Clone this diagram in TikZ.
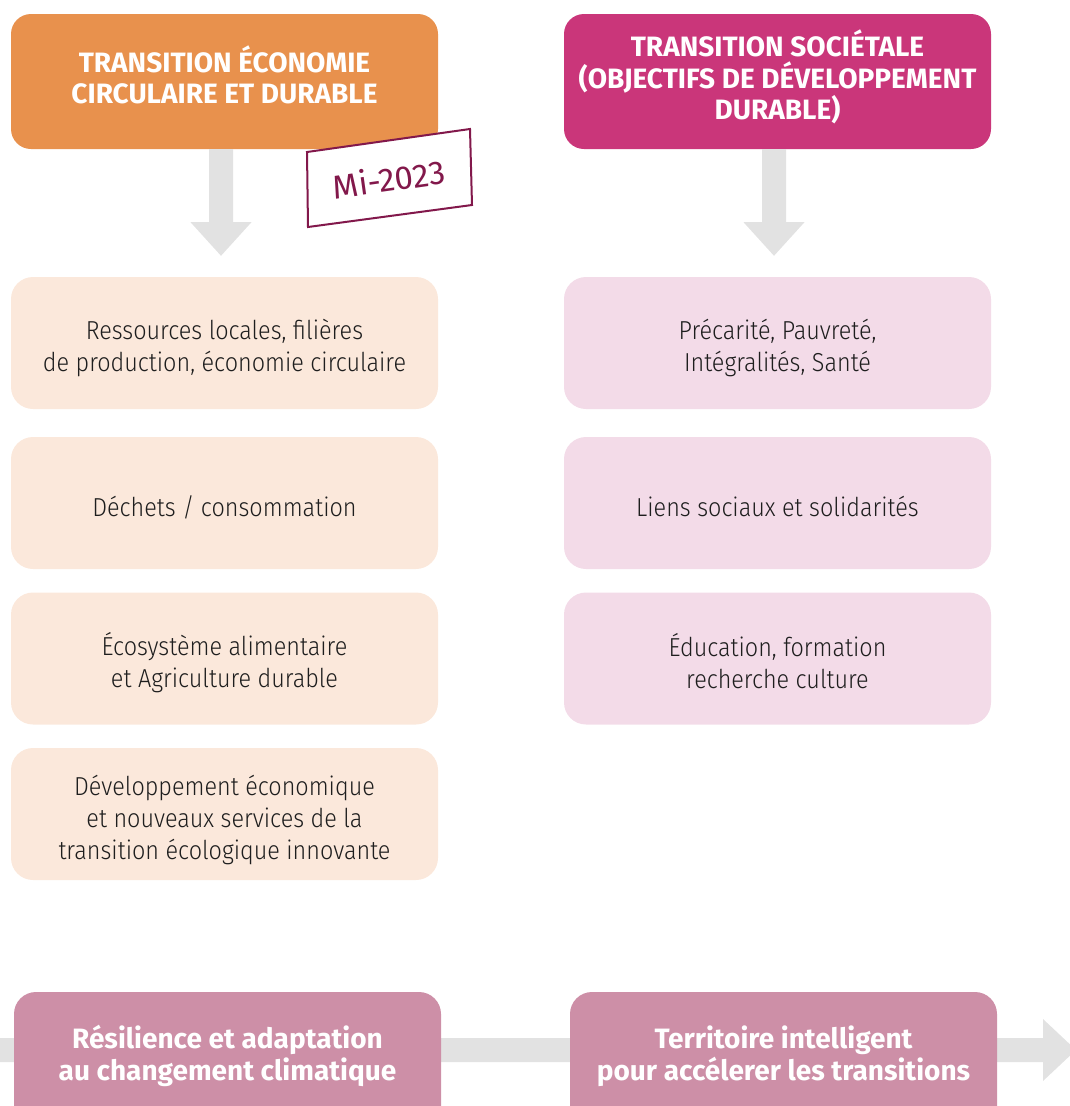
\documentclass[tikz,border=0pt]{standalone}
\usepackage{fontspec}
\setmainfont{Fira Sans}
\newfontfamily\bodyfont{Fira Sans Light}[FakeStretch=0.9]
\usetikzlibrary{calc}
\definecolor{hdorange}{HTML}{E8914D}
\definecolor{hdmagenta}{HTML}{CA367A}
\definecolor{lightorange}{HTML}{FBE8DB}
\definecolor{lightpink}{HTML}{F3DBE8}
\definecolor{bottompink}{HTML}{CD8FA7}
\definecolor{arrowgray}{HTML}{E2E2E2}
\definecolor{tagcol}{HTML}{82184B}
\definecolor{bodytext}{HTML}{1E1E1E}
\tikzset{
  header/.style={rounded corners=20pt, minimum width=427pt, minimum height=135pt,
    inner sep=0pt},
  headtext/.style={text=white, align=center, inner sep=0pt,
    font=\fontsize{28}{31.5}\selectfont\bfseries},
  itembox/.style={rounded corners=22pt, minimum width=427pt, minimum height=132pt,
    inner sep=0pt},
  itemtext/.style={text=bodytext, align=center, inner sep=0pt,
    font=\fontsize{26}{32}\selectfont\bodyfont},
  orangeitem/.style={itembox, fill=lightorange},
  pinkitem/.style={itembox, fill=lightpink},
  bottombox/.style={rounded corners=22pt, minimum width=427pt, minimum height=150pt,
    inner sep=0pt, fill=bottompink},
  bottomtext/.style={text=white, align=center, inner sep=0pt,
    font=\fontsize{28}{32}\selectfont\bfseries},
  tagtext/.style={text=tagcol, inner sep=0pt, font=\fontsize{33}{38}\selectfont}
}
\begin{document}
\begin{tikzpicture}[x=1pt,y=-1pt]
\useasboundingbox (0,0) rectangle (1070,1106);
\clip (0,0) rectangle (1070,1106);

% headers
\node[header, fill=hdorange] (h1) at (224.5,81.5) {};
\node[header, fill=hdmagenta] (h2) at (777.5,81.5) {};
\node[headtext] (h1t) at ($(h1)+(0,-6.5)$) {TRANSITION ÉCONOMIE\\CIRCULAIRE ET DURABLE};
\node[headtext] (h2t) at ($(h2)+(0,-4.5)$) {TRANSITION SOCIÉTALE\\(OBJECTIFS DE DÉVELOPPEMENT\\DURABLE)};

% left items
\node[orangeitem] (a1) at (224.5,343) {};
\node[orangeitem] (a2) at (224.5,503) {};
\node[orangeitem] (a3) at (224.5,658.5) {};
\node[orangeitem] (a4) at (224.5,814) {};
\node[itemtext] (a1t) at ($(a1)+(0,4.5)$) {Ressources locales, filières\\de production, économie circulaire};
\node[itemtext] (a2t) at ($(a2)+(0,4)$) {Déchets / consommation};
\node[itemtext] (a3t) at ($(a3)+(0,4)$) {Écosystème alimentaire\\et Agriculture durable};
\node[itemtext] (a4t) at ($(a4)+(0,5.5)$) {Développement économique\\et nouveaux services de la\\transition écologique innovante};

% right items
\node[pinkitem] (b1) at (777.5,343) {};
\node[pinkitem] (b2) at (777.5,503) {};
\node[pinkitem] (b3) at (777.5,658.5) {};
\node[itemtext] (b1t) at ($(b1)+(0,4.5)$) {Précarité, Pauvreté,\\Intégralités, Santé};
\node[itemtext] (b2t) at ($(b2)+(0,3)$) {Liens sociaux et solidarités};
\node[itemtext] (b3t) at ($(b3)+(0,2.5)$) {Éducation, formation\\recherche culture};

% down arrows
\fill[arrowgray] ($(h1.south)+(-15.5,0)$) -- ($(h1.south)+(8.5,0)$) -- ($(h1.south)+(8.5,73)$)
  -- ($(h1.south)+(27,73)$) -- ($(a1.north)+(-3.5,-21)$) -- ($(h1.south)+(-34,73)$)
  -- ($(h1.south)+(-15.5,73)$) -- cycle;
\fill[arrowgray] ($(h2.south)+(-15.5,0)$) -- ($(h2.south)+(8.5,0)$) -- ($(h2.south)+(8.5,73)$)
  -- ($(h2.south)+(27,73)$) -- ($(b1.north)+(-3.5,-21)$) -- ($(h2.south)+(-34,73)$)
  -- ($(h2.south)+(-15.5,73)$) -- cycle;

% tag
\draw[tagcol, line width=2pt, fill=white, line join=miter] (307,152) -- (470,129) -- (472,205) -- (308,227) -- cycle;
\node[tagtext, rotate=8] (tag) at (389,179) {Mi-2023};

% bottom band
\coordinate (bandstart) at (0,1050);
\coordinate (bandtip) at (1076,1050);
\fill[arrowgray] ($(bandstart)+(0,-12)$) -- ($(bandtip)+(-33,-12)$) -- ($(bandtip)+(-33,-31)$)
  -- (bandtip) -- ($(bandtip)+(-33,31)$) -- ($(bandtip)+(-33,12)$) -- ($(bandstart)+(0,12)$) -- cycle;

% bottom boxes
\node[bottombox] (r1) at (227.5,1067) {};
\node[bottombox] (r2) at (783.5,1067) {};
\node[bottomtext] (r1t) at ($(r1)+(0,-11)$) {Résilience et adaptation\\au changement climatique};
\node[bottomtext] (r2t) at ($(r2)+(0,-11)$) {Territoire intelligent\\pour accélerer les transitions};
\end{tikzpicture}
\end{document}
